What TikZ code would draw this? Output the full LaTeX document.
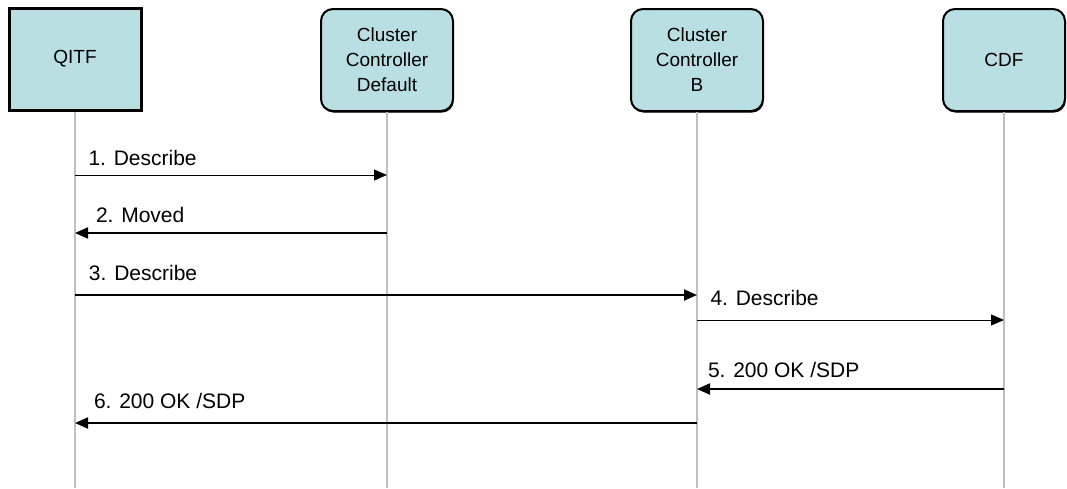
\documentclass[tikz,border=0pt]{standalone}
\usepackage{fontspec}
\setmainfont{Liberation Sans}
\usetikzlibrary{arrows.meta,shadows}
\definecolor{boxfill}{HTML}{B9DFE2}
\definecolor{lifegray}{HTML}{C0C0C0}

\begin{document}
\begin{tikzpicture}[x=0.5pt,y=-0.5pt,
	party/.style={draw=black,fill=boxfill,line width=1pt,align=center,inner sep=0pt,
		font=\fontsize{9.5}{12.5}\selectfont,minimum width=66pt,minimum height=51pt,
		drop shadow={shadow xshift=0.4pt,shadow yshift=-0.8pt,fill=black,opacity=1}},
	roundparty/.style={party,rounded corners=6pt},
	life/.style={draw=lifegray,line width=1pt},
	msg/.style={-{Triangle[length=6.5pt,width=5.5pt]},line width=0.5pt},
	bigmsg/.style={-{Triangle[length=6.5pt,width=5.5pt]},line width=1pt},
	lbl/.style={font=\fontsize{10.5}{12}\selectfont,inner sep=0pt,anchor=base west}]
	\useasboundingbox (0,0) rectangle (1067,488);

	\node[party,line width=1.5pt] (Q) at (75,59) {QITF};
	\node[roundparty] (D) at (387,60) {Cluster\\Controller\\Default};
	\node[roundparty] (B) at (697,60) {Cluster\\Controller\\B};
	\node[roundparty,minimum width=61pt] (C) at (1004,60) {CDF};

	\coordinate (Qend) at (75,488);
	\coordinate (Dend) at (387,488);
	\coordinate (Bend) at (697,488);
	\coordinate (Cend) at (1004,488);

	\draw[life] (Q.south)--(Qend);
	\draw[life] (D.south)--(Dend);
	\draw[life] (B.south)--(Bend);
	\draw[life] (C.south)--(Cend);

	\coordinate (q1) at (75,175);  \coordinate (d1) at (387,175);
	\coordinate (q2) at (75,233);  \coordinate (d2) at (387,233);
	\coordinate (q3) at (75,295);  \coordinate (b3) at (697,295);
	\coordinate (b4) at (697,320); \coordinate (c4) at (1004,320);
	\coordinate (b5) at (697,389); \coordinate (c5) at (1004,389);
	\coordinate (q6) at (75,423);  \coordinate (b6) at (697,423);

	\draw[msg] (q1)--(d1) node[lbl,pos=0,xshift=6.5pt,yshift=5pt]{1. Describe};
	\draw[bigmsg] (d2)--(q2) node[lbl,pos=1,xshift=10pt,yshift=5.5pt]{2. Moved};
	\draw[bigmsg] (q3)--(b3) node[lbl,pos=0,xshift=6.5pt,yshift=7.5pt]{3. Describe};
	\draw[msg] (b4)--(c4) node[lbl,pos=0,xshift=6.5pt,yshift=7.5pt]{4. Describe};
	\draw[bigmsg] (c5)--(b5) node[lbl,pos=1,xshift=5pt,yshift=6pt]{5. 200 OK /SDP};
	\draw[bigmsg] (b6)--(q6) node[lbl,pos=1,xshift=9pt,yshift=7.5pt]{6. 200 OK /SDP};
\end{tikzpicture}
\end{document}
